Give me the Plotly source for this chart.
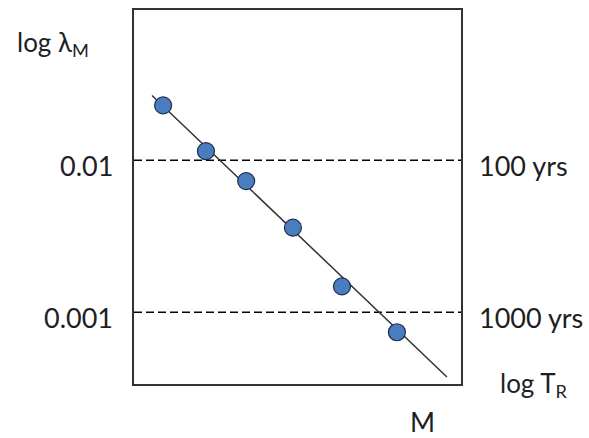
import numpy as np
import plotly.graph_objects as go

# Data
m_points = [0.89, 2.20, 3.43, 4.86, 6.36, 8.04]
lam_points = [0.0229, 0.01146, 0.00729, 0.00360, 0.00148, 0.00074]
m_fit = [0.55, 9.57]
lam_fit = [0.0266, 0.000376]
ref_rates = [0.01, 0.001]
left_labels = ["0.01", "0.001"]
right_labels = ["100 yrs", "1000 yrs"]

x_range = [0, 10]
y_range = [-3.471, -1.013]

FONT = "Lato"
TXT = "#1e1e24"

fig = go.Figure()
for r in ref_rates:
    fig.add_trace(go.Scatter(x=x_range, y=[r, r], mode="lines",
                             line=dict(color="black", width=1.5, dash="8px,4px"),
                             hoverinfo="skip", showlegend=False))
fig.add_trace(go.Scatter(x=m_fit, y=lam_fit, mode="lines",
                         line=dict(color="#333333", width=1.5),
                         showlegend=False))
fig.add_trace(go.Scatter(x=m_points, y=lam_points, mode="markers",
                         marker=dict(size=17, color="#4a7cc0",
                                     line=dict(color="#1f2f4a", width=1.2)),
                         showlegend=False))

ann = []
for r, lt, rt in zip(ref_rates, left_labels, right_labels):
    ann.append(dict(x=-0.058, xref="paper", y=np.log10(r), yref="y", text=lt,
                    showarrow=False, xanchor="right", yanchor="middle", yshift=-5,
                    font=dict(size=27, color=TXT, family=FONT)))
    ann.append(dict(x=1.049, xref="paper", y=np.log10(r), yref="y", text=rt,
                    showarrow=False, xanchor="left", yanchor="middle", yshift=-5,
                    font=dict(size=27, color=TXT, family=FONT)))
ann.append(dict(x=-0.364, xref="paper", y=0.91, yref="paper",
                text="log λ<sub>M</sub>", showarrow=False,
                xanchor="left", yanchor="middle",
                font=dict(size=26, color=TXT, family=FONT)))
ann.append(dict(x=1.113, xref="paper", y=-0.002, yref="paper",
                text="log T<sub>R</sub>", showarrow=False,
                xanchor="left", yanchor="middle",
                font=dict(size=26, color=TXT, family=FONT)))
ann.append(dict(x=0.881, xref="paper", y=-0.1, yref="paper",
                text="M", showarrow=False,
                xanchor="center", yanchor="middle",
                font=dict(size=27, color=TXT, family=FONT)))

fig.update_layout(
    width=589, height=438,
    margin=dict(l=134, r=128, t=8, b=54),
    paper_bgcolor="white", plot_bgcolor="white",
    annotations=ann,
    xaxis=dict(range=x_range, showgrid=False, zeroline=False, showticklabels=False,
               ticks="", showline=True, linecolor="#333", linewidth=1.5, mirror=True),
    yaxis=dict(type="log", range=y_range, showgrid=False, zeroline=False,
               showticklabels=False, ticks="", showline=True, linecolor="#333",
               linewidth=1.5, mirror=True),
)
fig.write_html("out.html", config={"displayModeBar": False},
               post_script="document.body.style.margin='0';document.body.style.overflow='hidden';")
